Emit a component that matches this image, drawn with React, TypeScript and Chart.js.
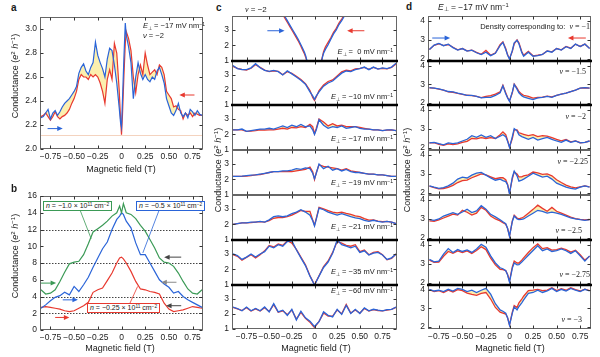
import React, { useEffect, useRef } from 'react';
import { Chart, registerables } from 'chart.js';
Chart.register(...registerables);

// ---------------- data ----------------
const A_X = [-0.85,-0.825,-0.8,-0.775,-0.75,-0.725,-0.7,-0.675,-0.65,-0.625,
  -0.6,-0.575,-0.55,-0.525,-0.5,-0.475,-0.45,-0.425,-0.4,-0.375,
  -0.35,-0.325,-0.3,-0.275,-0.25,-0.225,-0.2,-0.175,-0.15,-0.125,
  -0.1,-0.075,-0.05,-0.025,-0.01,0,0.01,0.025,0.04,0.05,
  0.075,0.1,0.125,0.15,0.175,0.2,0.225,0.25,0.275,0.3,
  0.325,0.35,0.375,0.4,0.425,0.45,0.475,0.5,0.525,0.55,
  0.575,0.6,0.625,0.65,0.675,0.7,0.725,0.75,0.775,0.8,
  0.825,0.85];
const A_BLUE = [2.26,2.27,2.30,2.33,2.25,2.30,2.32,2.28,2.31,2.35,
  2.38,2.40,2.42,2.45,2.48,2.52,2.63,2.68,2.71,2.65,
  2.62,2.68,2.72,2.89,2.78,2.72,2.67,2.60,2.75,2.84,
  2.82,2.70,2.55,2.35,2.22,2.18,2.40,2.75,3.05,2.95,
  2.85,2.72,2.42,2.60,2.72,2.63,2.58,2.62,2.58,2.56,
  2.60,2.58,2.65,2.68,2.62,2.55,2.42,2.36,2.30,2.28,
  2.32,2.38,2.30,2.27,2.30,2.26,2.33,2.31,2.28,2.32,
  2.29,2.28];
const A_RED = [2.27,2.28,2.30,2.27,2.24,2.27,2.31,2.27,2.25,2.27,
  2.28,2.30,2.33,2.38,2.42,2.48,2.58,2.62,2.60,2.60,
  2.58,2.62,2.60,2.62,2.60,2.55,2.48,2.38,2.58,2.66,
  2.58,2.88,2.80,2.50,2.25,2.12,2.28,2.60,2.88,2.98,
  2.92,2.82,2.60,2.47,2.62,2.70,2.62,2.80,2.70,2.62,
  2.64,2.66,2.62,2.70,2.68,2.62,2.48,2.45,2.42,2.35,
  2.36,2.33,2.32,2.25,2.30,2.28,2.30,2.27,2.30,2.29,
  2.28,2.28];

const B_X = [-0.85,-0.8,-0.75,-0.7,-0.65,-0.6,-0.55,-0.5,-0.45,-0.4,
  -0.35,-0.3,-0.25,-0.2,-0.15,-0.1,-0.05,-0.02,0,0.02,
  0.05,0.1,0.15,0.2,0.25,0.3,0.35,0.4,0.45,0.5,
  0.55,0.6,0.65,0.7,0.75,0.8,0.85];
const B_GREEN = [4.8,4.3,4.4,4.8,5.8,6.9,7.9,8.1,8.2,9.0,
  10.3,11.7,12.1,12.5,13.0,13.6,14.0,14.8,14.0,15.1,
  14.0,13.8,13.3,12.5,11.8,10.8,9.8,8.6,8.1,8.0,
  7.6,6.8,5.8,4.9,4.4,4.3,4.8];
const B_BLUE = [2.6,3.0,3.5,3.9,4.1,4.5,4.2,5.2,4.6,5.4,
  6.3,7.5,8.6,9.7,10.5,12.0,13.2,13.6,14.0,13.8,
  13.0,12.2,10.4,9.0,9.0,8.0,7.0,6.0,5.5,5.1,
  4.4,4.6,4.0,3.6,3.3,3.0,2.7];
const B_RED = [2.7,2.8,2.7,2.6,2.5,2.3,2.2,2.3,2.6,2.9,
  3.3,4.5,4.8,5.0,5.9,6.8,8.0,8.6,8.7,8.5,
  8.0,7.0,5.8,4.9,4.8,4.6,4.5,4.3,3.2,2.5,
  2.2,2.3,2.4,2.6,2.8,2.7,2.6];

const C0_X = [-0.45,-0.4,-0.36,-0.33,-0.3,-0.27,-0.24,-0.21,-0.18,-0.15,
  -0.13,-0.11,-0.095,-0.085,-0.08,0,0.075,0.08,0.09,0.1,
  0.12,0.15,0.18,0.21,0.24,0.27,0.3,0.33,0.36,0.4,
  0.45];
const C0_BLUE = [5.2,4.6,4.2,3.9,3.6,3.3,3.0,2.7,2.4,2.05,
  1.8,1.55,1.3,1.05,0.9,null,0.9,1.05,1.3,1.5,
  1.75,2.05,2.4,2.75,3.0,3.35,3.6,3.9,4.25,4.7,
  5.3];
const C0_RED = [5.1,4.5,4.1,3.8,3.5,3.2,2.9,2.6,2.3,1.95,
  1.7,1.45,1.2,1.0,0.85,null,0.9,1.1,1.35,1.6,
  1.9,2.2,2.5,2.85,3.1,3.45,3.7,4.0,4.3,4.75,
  5.35];

const C_X = [-0.9,-0.85,-0.8,-0.75,-0.7,-0.65,-0.6,-0.55,-0.5,-0.45,
  -0.4,-0.35,-0.3,-0.25,-0.2,-0.15,-0.1,-0.05,-0.02,0,
  0.02,0.05,0.1,0.15,0.2,0.25,0.3,0.35,0.4,0.45,
  0.5,0.55,0.6,0.65,0.7,0.75,0.8,0.85,0.9];
const C10_BLUE = [3.6,3.4,3.33,3.33,3.45,3.72,3.45,3.28,3.22,3.28,
  3.2,2.98,3.25,3.05,2.85,2.63,2.37,1.87,1.6,1.37,
  1.6,1.87,2.24,2.45,2.58,2.85,3.1,3.24,3.2,3.33,
  3.4,3.5,3.33,3.5,3.37,3.45,3.4,3.5,3.76];
const C10_RED = [3.55,3.42,3.35,3.3,3.42,3.65,3.48,3.3,3.2,3.25,
  3.22,3.0,3.2,3.08,2.9,2.68,2.4,1.95,1.5,1.3,
  1.55,1.95,2.32,2.55,2.65,2.92,3.18,3.3,3.25,3.38,
  3.42,3.48,3.35,3.48,3.38,3.42,3.38,3.48,3.7];
const C17_BLUE = [2.3,2.3,2.35,2.2,2.25,2.3,2.35,2.35,2.4,2.35,
  2.45,2.55,2.45,2.6,2.5,2.65,2.5,2.55,2.3,2.0,
  2.3,2.95,2.6,2.4,2.5,2.45,2.55,2.4,2.45,2.5,
  2.4,2.35,2.35,2.3,2.3,2.25,2.3,2.3,2.25];
const C17_RED = [2.3,2.3,2.3,2.2,2.22,2.25,2.3,2.28,2.3,2.3,
  2.35,2.4,2.35,2.45,2.42,2.5,2.45,2.65,2.5,2.05,
  2.4,3.0,2.8,2.55,2.7,2.55,2.6,2.5,2.5,2.5,
  2.45,2.4,2.35,2.3,2.3,2.25,2.28,2.3,2.25];
const C19_BLUE = [2.2,2.2,2.22,2.25,2.28,2.3,2.35,2.4,2.45,2.5,
  2.5,2.55,2.55,2.6,2.7,2.65,2.75,2.7,2.4,2.05,
  2.4,3.0,2.7,2.85,2.6,2.7,2.55,2.65,2.5,2.45,
  2.45,2.4,2.35,2.35,2.3,2.3,2.25,2.2,2.2];
const C19_RED = [2.2,2.2,2.2,2.22,2.25,2.3,2.32,2.38,2.45,2.5,
  2.5,2.5,2.5,2.5,2.55,2.6,2.65,2.8,2.5,2.0,
  2.45,2.95,2.85,2.8,2.75,2.7,2.6,2.7,2.55,2.5,
  2.45,2.4,2.35,2.35,2.3,2.3,2.25,2.2,2.2];
const C21_BLUE = [2.0,2.05,2.1,2.1,2.15,2.15,2.2,2.15,2.3,2.5,
  2.55,2.5,2.55,2.7,2.8,2.95,2.8,2.6,2.25,1.9,
  2.35,3.05,2.95,2.8,2.7,2.6,2.7,2.6,2.5,2.42,
  2.38,2.27,2.2,2.27,2.2,2.15,2.2,2.15,2.05];
const C21_RED = [2.0,2.05,2.1,2.1,2.12,2.15,2.18,2.15,2.25,2.4,
  2.45,2.45,2.5,2.6,2.75,2.9,2.85,2.85,2.3,1.95,
  2.4,3.1,3.0,2.9,2.8,2.75,2.8,2.72,2.65,2.55,
  2.5,2.38,2.28,2.3,2.22,2.18,2.2,2.15,2.05];
const C35_BLUE = [3.0,2.9,2.65,2.8,3.0,2.8,3.0,3.15,3.5,3.4,
  3.6,3.5,3.8,3.85,3.27,2.75,2.25,1.57,1.23,1.0,
  1.23,1.57,2.13,2.48,3.05,3.9,3.6,3.5,3.4,3.5,
  3.1,3.2,2.93,3.05,3.1,2.93,2.65,2.75,3.0];
const C35_RED = [2.95,2.85,2.6,2.78,2.95,2.75,2.95,3.2,3.55,3.45,
  3.65,3.55,3.85,3.7,3.3,2.8,2.3,1.6,1.25,1.0,
  1.25,1.6,2.18,2.55,3.1,3.8,3.7,3.55,3.5,3.6,
  3.15,3.25,2.95,3.1,3.15,2.95,2.62,2.72,3.0];
const C60_BLUE = [2.45,2.35,2.2,2.45,2.2,2.35,2.2,2.45,2.13,2.67,
  2.13,2.24,1.9,2.3,1.6,2.17,1.74,1.52,1.3,1.15,
  1.3,1.48,2.13,1.9,1.8,2.3,1.96,2.56,2.02,2.3,
  2.02,2.39,2.2,2.3,2.24,2.2,2.28,2.3,2.45];
const C60_RED = [2.42,2.33,2.22,2.4,2.18,2.33,2.18,2.4,2.15,2.6,
  2.1,2.2,1.95,2.25,1.65,2.1,1.7,1.45,1.22,1.1,
  1.25,1.5,2.05,1.85,1.85,2.25,2.0,2.62,2.05,2.25,
  2.05,2.35,2.18,2.28,2.22,2.2,2.25,2.3,2.42];
const C_FIELDS = [0, -10, -17, -19, -21, -35, -60];

const D_X = [-0.85,-0.8,-0.75,-0.7,-0.65,-0.6,-0.55,-0.5,-0.45,-0.4,
  -0.35,-0.3,-0.25,-0.2,-0.15,-0.1,-0.07,-0.04,-0.02,0,
  0.03,0.05,0.08,0.1,0.13,0.15,0.2,0.25,0.3,0.35,
  0.4,0.45,0.5,0.55,0.6,0.65,0.7,0.75,0.8,0.85];
const D1_BLUE = [2.5,2.73,2.82,2.7,2.78,2.6,2.47,2.55,2.42,2.47,
  2.33,2.24,2.36,2.18,2.3,2.7,2.87,2.5,2.2,2.0,
  2.45,2.85,2.98,2.8,2.35,2.15,2.36,2.15,2.18,2.24,
  2.42,2.36,2.55,2.47,2.65,2.55,2.78,2.65,2.78,2.55];
const D1_RED = [2.5,2.72,2.8,2.7,2.76,2.62,2.48,2.55,2.43,2.46,
  2.35,2.25,2.45,2.2,2.32,2.75,2.9,2.55,2.22,2.02,
  2.4,2.8,3.0,2.85,2.4,2.2,2.4,2.17,2.2,2.25,
  2.43,2.38,2.55,2.48,2.66,2.57,2.78,2.66,2.78,2.56];
const D15_BLUE = [2.83,2.8,2.76,2.7,2.62,2.6,2.53,2.48,2.41,2.41,
  2.36,2.28,2.31,2.31,2.41,2.55,2.92,2.5,2.28,2.1,
  2.6,3.0,2.75,2.55,2.4,2.33,2.26,2.19,2.28,2.31,
  2.36,2.31,2.41,2.48,2.53,2.62,2.7,2.8,2.83,2.8];
const D15_RED = [2.82,2.8,2.75,2.7,2.6,2.58,2.52,2.47,2.42,2.4,
  2.36,2.3,2.36,2.4,2.48,2.6,2.95,2.55,2.3,2.12,
  2.55,3.02,2.8,2.62,2.48,2.42,2.36,2.27,2.3,2.32,
  2.37,2.33,2.42,2.48,2.54,2.62,2.7,2.8,2.82,2.8];
const D2_BLUE = [2.27,2.3,2.23,2.17,2.27,2.23,2.27,2.37,2.46,2.65,
  2.56,2.69,2.56,2.65,2.5,2.62,2.7,2.6,2.35,2.04,
  2.6,3.02,2.9,2.69,2.6,2.56,2.46,2.56,2.42,2.5,
  2.56,2.46,2.37,2.3,2.42,2.3,2.37,2.27,2.3,2.37];
const D2_RED = [2.27,2.28,2.2,2.15,2.22,2.18,2.22,2.3,2.35,2.5,
  2.48,2.55,2.5,2.55,2.5,2.7,2.85,2.7,2.4,2.05,
  2.5,2.95,2.95,2.8,2.75,2.72,2.65,2.7,2.6,2.65,
  2.62,2.55,2.45,2.38,2.45,2.33,2.38,2.28,2.3,2.37];
const D225_BLUE = [2.38,2.31,2.25,2.29,2.38,2.52,2.73,2.83,2.79,2.94,
  3.04,3.08,2.94,2.79,2.67,2.73,2.65,2.6,2.42,1.96,
  2.83,3.15,2.9,2.62,2.68,2.73,2.88,3.04,2.94,2.83,
  2.88,2.73,2.52,2.42,2.31,2.25,2.21,2.31,2.38,2.31];
const D225_RED = [2.36,2.28,2.22,2.24,2.3,2.4,2.55,2.65,2.68,2.8,
  2.9,3.0,2.95,2.85,2.75,2.8,2.8,2.7,2.45,2.0,
  2.75,3.1,3.0,2.85,2.85,2.9,2.95,3.1,3.05,2.98,
  3.0,2.9,2.7,2.55,2.42,2.33,2.27,2.33,2.38,2.32];
const D25_BLUE = [2.96,2.93,3.0,3.15,3.24,3.33,3.24,3.36,3.51,3.33,
  3.42,3.69,3.51,3.24,3.11,2.96,2.85,2.75,2.5,2.09,
  2.87,3.15,3.0,2.96,2.98,3.0,3.15,3.3,3.45,3.4,
  3.3,3.35,3.3,3.24,3.15,3.05,3.0,2.96,2.93,2.96];
const D25_RED = [2.9,2.88,2.95,3.05,3.15,3.25,3.2,3.45,3.35,3.2,
  3.3,3.6,3.45,3.15,3.0,2.9,2.8,2.72,2.5,2.1,
  2.9,3.2,3.05,3.0,3.05,3.1,3.3,3.5,3.72,3.55,
  3.4,3.6,3.4,3.3,3.2,3.1,3.02,2.98,2.95,2.97];
const D275_BLUE = [3.24,3.11,3.15,3.51,3.8,3.6,3.75,3.65,3.73,3.6,
  3.78,4.02,3.87,3.42,3.05,2.8,2.75,2.65,2.42,2.05,
  2.78,3.05,2.95,2.96,3.1,3.2,3.45,3.7,3.95,3.69,
  3.78,3.65,3.69,3.78,3.69,3.55,3.69,3.42,3.15,3.42];
const D275_RED = [3.2,3.08,3.1,3.4,3.65,3.55,3.68,3.6,3.68,3.55,
  3.7,3.9,3.75,3.3,2.95,2.72,2.7,2.65,2.45,2.1,
  2.85,3.15,3.05,3.05,3.2,3.32,3.6,3.85,4.05,3.8,
  3.85,3.72,3.75,3.82,3.75,3.62,3.72,3.48,3.2,3.4];
const D3_BLUE = [4.02,3.93,3.97,3.9,4.02,3.93,4.07,4.02,3.9,3.97,
  3.85,3.97,4.07,3.76,3.25,2.92,2.85,2.75,2.49,2.1,
  2.75,3.08,2.92,3.1,3.3,3.45,3.8,3.85,3.97,3.85,
  3.93,4.07,3.9,4.02,3.93,4.07,3.97,3.9,4.02,3.93];
const D3_RED = [4.0,3.9,3.95,3.85,3.98,3.88,4.0,3.95,3.82,3.75,
  3.7,3.8,3.85,3.5,3.05,2.8,2.75,2.7,2.5,2.12,
  2.8,3.15,3.05,3.3,3.5,3.65,3.95,3.98,4.02,3.95,
  3.98,4.1,3.95,4.05,3.97,4.1,4.0,3.93,4.03,3.95];
const D_NU = [-1, -1.5, -2, -2.25, -2.5, -2.75, -3];

const X_TICKS = [-0.75, -0.5, -0.25, 0, 0.25, 0.5, 0.75];
const A_Y_TICKS = [2.0, 2.2, 2.4, 2.6, 2.8, 3.0];
const B_Y_TICKS = [0, 2, 4, 6, 8, 10, 12, 14, 16];
const B_DOTTED = [2, 4, 8, 12];
const C_Y_TICKS = [1, 2, 3];
const D_Y_TICKS = [2, 3, 4];

// ---------------- styling ----------------
const SANS = '"Liberation Sans", Arial, Helvetica, sans-serif';
const SERIF = '"Liberation Serif", "Times New Roman", serif';
const RED = '#e8392f';
const BLUE = '#2a64d8';
const GREEN = '#3b9a56';
const FILL = '#fcefae';
const MINUS = '\u2212';

const fmtX = (v: number) => (v === 0 ? '0' : (v < 0 ? MINUS : '') + Math.abs(v).toFixed(2));
const fmtNum = (v: number) => (v < 0 ? MINUS : '') + Math.abs(v);

const decorPlugin = {
  id: 'decor',
  beforeDatasetsDraw(chart: any, _a: any, o: any) {
    const { ctx, chartArea: ca, scales } = chart;
    ctx.save();
    for (const h of o.hlines || []) {
      const py = Math.round(scales.y.getPixelForValue(h.y)) + 0.5;
      ctx.strokeStyle = h.color;
      ctx.lineWidth = 1;
      ctx.setLineDash(h.dash || []);
      ctx.beginPath();
      ctx.moveTo(ca.left, py);
      ctx.lineTo(ca.right, py);
      ctx.stroke();
    }
    ctx.restore();
  },
  afterDatasetsDraw(chart: any, _a: any, o: any) {
    const { ctx, chartArea: ca, scales } = chart;
    const xs = scales.x, ys = scales.y;
    const L = Math.round(ca.left) + 0.5, R = Math.round(ca.right) - 0.5;
    const T = Math.round(ca.top) + 0.5, B = Math.round(ca.bottom) - 0.5;
    ctx.save();
    ctx.setLineDash([]);
    for (const l of o.leaders || []) {
      ctx.strokeStyle = l.color;
      ctx.lineWidth = 0.8;
      ctx.beginPath();
      ctx.moveTo(xs.getPixelForValue(l.x1), ys.getPixelForValue(l.y1));
      ctx.lineTo(xs.getPixelForValue(l.x2), ys.getPixelForValue(l.y2));
      ctx.stroke();
    }
    for (const a of o.arrows || []) {
      const x1 = xs.getPixelForValue(a.from), x2 = xs.getPixelForValue(a.to);
      const py = ys.getPixelForValue(a.y);
      const d = Math.sign(x2 - x1);
      ctx.strokeStyle = a.color;
      ctx.fillStyle = a.color;
      ctx.lineWidth = 1;
      ctx.beginPath();
      ctx.moveTo(x1, py);
      ctx.lineTo(x2 - d * 4, py);
      ctx.stroke();
      ctx.beginPath();
      ctx.moveTo(x2, py);
      ctx.lineTo(x2 - d * 5.5, py - 2.5);
      ctx.lineTo(x2 - d * 5.5, py + 2.5);
      ctx.closePath();
      ctx.fill();
    }
    ctx.strokeStyle = o.frame || '#666';
    ctx.lineWidth = 1;
    ctx.strokeRect(L, T, R - L, B - T);
    ctx.strokeStyle = '#333';
    ctx.beginPath();
    for (const v of o.xTicks || []) {
      const px = Math.round(xs.getPixelForValue(v)) + 0.5;
      ctx.moveTo(px, B); ctx.lineTo(px, B - 3);
      ctx.moveTo(px, T); ctx.lineTo(px, T + 3);
    }
    for (const v of o.yTicks || []) {
      const py = Math.round(ys.getPixelForValue(v)) + 0.5;
      ctx.moveTo(L, py); ctx.lineTo(L + 3, py);
      ctx.moveTo(R, py); ctx.lineTo(R - 3, py);
    }
    ctx.stroke();
    ctx.strokeStyle = '#000';
    ctx.lineWidth = 1.6;
    if (o.thickTop) { ctx.beginPath(); ctx.moveTo(ca.left - 1, ca.top + 0.5); ctx.lineTo(ca.right + 1, ca.top + 0.5); ctx.stroke(); }
    if (o.thickBottom) { ctx.beginPath(); ctx.moveTo(ca.left - 1, ca.bottom - 0.5); ctx.lineTo(ca.right + 1, ca.bottom - 0.5); ctx.stroke(); }
    ctx.fillStyle = '#222';
    ctx.font = `8.5px ${SANS}`;
    if (o.xLabels) {
      ctx.textAlign = 'center';
      ctx.textBaseline = 'top';
      for (const v of o.xTicks) ctx.fillText(fmtX(v), xs.getPixelForValue(v), ca.bottom + 3);
    }
    if (o.yLabels) {
      ctx.textAlign = 'right';
      ctx.textBaseline = 'middle';
      for (const v of o.yTicks) ctx.fillText(o.yDec ? v.toFixed(o.yDec) : String(v), ca.left - 3, ys.getPixelForValue(v));
    }
    ctx.restore();
  },
};

const pts = (xs: number[], ys: (number | null)[]) => xs.map((x, i) => ({ x, y: ys[i] }));
const line = (xs: number[], ys: (number | null)[], color: string, width: number, extra: any = {}) => ({
  data: pts(xs, ys), borderColor: color, borderWidth: width, pointRadius: 0, tension: 0, fill: false, spanGaps: false, ...extra,
});

function Plot({ rect, m, xr, yr, datasets, decor }: any) {
  const ref = useRef<HTMLCanvasElement | null>(null);
  const W = rect.w + m.l + m.r, H = rect.h + m.t + m.b;
  useEffect(() => {
    const chart = new Chart(ref.current as HTMLCanvasElement, {
      type: 'line',
      data: { datasets },
      options: {
        animation: false,
        responsive: false,
        devicePixelRatio: 1,
        events: [],
        layout: { padding: { left: m.l, right: m.r, top: m.t, bottom: m.b } },
        scales: {
          x: { type: 'linear', display: false, min: xr[0], max: xr[1] },
          y: { type: 'linear', display: false, min: yr[0], max: yr[1] },
        },
        plugins: {
          legend: { display: false },
          tooltip: { enabled: false },
          filler: { drawTime: 'beforeDatasetsDraw' },
          decor,
        } as any,
      },
      plugins: [decorPlugin],
    } as any);
    return () => chart.destroy();
  }, []);
  return (
    <canvas ref={ref} width={W} height={H}
      style={{ position: 'absolute', left: rect.l - m.l, top: rect.t - m.t, width: W, height: H }} />
  );
}

function T({ x, y, children, size = 8, align = 'left', font = SANS, bold = false, rotate = false, style = {} }: any) {
  const tx = align === 'left' ? '0' : align === 'right' ? '-100%' : '-50%';
  return (
    <div style={{
      position: 'absolute', left: x, top: y, fontSize: size, fontFamily: font, fontWeight: bold ? 700 : 400,
      lineHeight: 1, whiteSpace: 'nowrap', color: '#1a1a1a',
      transform: rotate ? 'translate(-50%,-50%) rotate(-90deg)' : `translate(${tx},-50%)`, ...style,
    }}>{children}</div>
  );
}

const supS: any = { fontSize: '0.68em', verticalAlign: '0.45em', lineHeight: 0 };
const subS: any = { fontSize: '0.7em', verticalAlign: '-0.25em', lineHeight: 0 };
const Eperp = () => (<><i>E</i><span style={subS}>⊥</span></>);
const ExpM1 = () => <span style={supS}>{MINUS}1</span>;
const CondLabel = () => (<>Conductance (<i>e</i><span style={supS}>2</span> <i>h</i><span style={supS}>{MINUS}1</span>)</>);

const ROWS = [16, 61, 105, 150, 195, 240, 285, 329];
const THICK_TOP = [false, true, true, false, false, true, true];
const THICK_BOTTOM = [true, true, false, false, true, true, false];

const C_SETS = [
  [C0_X, C0_RED, C0_BLUE, false], [C_X, C10_RED, C10_BLUE, false], [C_X, C17_RED, C17_BLUE, true],
  [C_X, C19_RED, C19_BLUE, true], [C_X, C21_RED, C21_BLUE, true], [C_X, C35_RED, C35_BLUE, false],
  [C_X, C60_RED, C60_BLUE, false],
];
const D_SETS = [
  [D1_RED, D1_BLUE], [D15_RED, D15_BLUE], [D2_RED, D2_BLUE], [D225_RED, D225_BLUE],
  [D25_RED, D25_BLUE], [D275_RED, D275_BLUE], [D3_RED, D3_BLUE],
];
const C_LABEL_Y = [51.7, 97, 139, 183, 226.7, 272, 291];
const D_LABEL_Y = [26.7, 71.7, 116.7, 161.7, 231, 275, 320];
const D_LABEL_R = [590, 586, 586, 588, 582, 590, 582];

// red underneath (order 1), blue on top (order 0); fill from blue back to red
const pair = (xs: any, r: any, b: any, w: number, withFill: boolean) => [
  line(xs, r, RED, w, { order: 1 }),
  line(xs, b, BLUE, w, withFill ? { order: 0, fill: '-1', backgroundColor: FILL } : { order: 0 }),
];

export default function App() {
  const boxBase: any = { position: 'absolute', background: '#fff', fontSize: 7, fontFamily: SANS, lineHeight: '8px', padding: '0 2px', whiteSpace: 'nowrap', color: '#1a1a1a' };
  return (
    <div style={{ position: 'absolute', left: 0, top: 0, width: 600, height: 357, background: '#fff', overflow: 'hidden', fontFamily: SANS }}>
      {/* panel a */}
      <Plot rect={{ l: 40, t: 17, w: 163, h: 132 }} m={{ l: 32, t: 4, r: 4, b: 14 }} xr={[-0.86, 0.86]} yr={[2.0, 3.1]}
        datasets={pair(A_X, A_RED, A_BLUE, 1.2, true)}
        decor={{ xTicks: X_TICKS, yTicks: A_Y_TICKS, xLabels: true, yLabels: true, yDec: 1,
          hlines: [{ y: 2.12, color: '#f4d3bf' }],
          arrows: [{ from: -0.78, to: -0.62, y: 2.17, color: BLUE }, { from: 0.77, to: 0.61, y: 2.45, color: RED }] }} />
      {/* panel b */}
      <Plot rect={{ l: 40, t: 196, w: 163, h: 134 }} m={{ l: 32, t: 4, r: 4, b: 14 }} xr={[-0.86, 0.86]} yr={[0, 16]}
        datasets={[line(B_X, B_GREEN, GREEN, 1.2), line(B_X, B_BLUE, BLUE, 1.2), line(B_X, B_RED, RED, 1.2)]}
        decor={{ xTicks: X_TICKS, yTicks: B_Y_TICKS, xLabels: true, yLabels: true,
          hlines: B_DOTTED.map((y) => ({ y, color: '#444', dash: [1.5, 1.5] })),
          leaders: [
            { x1: -0.44, y1: 14.4, x2: -0.32, y2: 10.9, color: GREEN },
            { x1: 0.4, y1: 14.4, x2: 0.225, y2: 9.2, color: BLUE },
            { x1: 0.085, y1: 3.1, x2: 0.17, y2: 5.2, color: RED },
          ],
          arrows: [
            { from: -0.86, to: -0.69, y: 5.6, color: GREEN },
            { from: -0.62, to: -0.46, y: 3.6, color: BLUE },
            { from: -0.7, to: -0.55, y: 1.5, color: RED },
            { from: 0.63, to: 0.45, y: 8.7, color: '#444' },
            { from: 0.58, to: 0.42, y: 5.7, color: '#8a8a8a' },
            { from: 0.63, to: 0.47, y: 2.9, color: '#444' },
          ] }} />
      {/* panel c */}
      {C_SETS.map(([xs, r, b, f]: any, i) => (
        <Plot key={'c' + i} rect={{ l: 232, t: ROWS[i], w: 165, h: ROWS[i + 1] - ROWS[i] }}
          m={{ l: 14, t: 3, r: 3, b: i === 6 ? 14 : 3 }} xr={[-0.91, 0.91]} yr={[1, 3.9]}
          datasets={pair(xs, r, b, 1.3, f)}
          decor={{ xTicks: X_TICKS, yTicks: C_Y_TICKS, xLabels: i === 6, yLabels: true,
            thickTop: THICK_TOP[i], thickBottom: THICK_BOTTOM[i],
            arrows: i === 0 ? [{ from: -0.52, to: -0.33, y: 2.95, color: BLUE }, { from: 0.55, to: 0.36, y: 2.95, color: RED }] : [] }} />
      ))}
      {/* panel d */}
      {D_SETS.map(([r, b]: any, i) => (
        <Plot key={'d' + i} rect={{ l: 428, t: ROWS[i], w: 163, h: ROWS[i + 1] - ROWS[i] }}
          m={{ l: 14, t: 3, r: 3, b: i === 6 ? 14 : 3 }} xr={[-0.865, 0.865]} yr={[1.9, 4.25]}
          datasets={pair(D_X, r, b, 1.3, i > 0)}
          decor={{ xTicks: X_TICKS, yTicks: D_Y_TICKS, xLabels: i === 6, yLabels: true,
            thickTop: THICK_TOP[i], thickBottom: THICK_BOTTOM[i],
            arrows: i === 0 ? [{ from: -0.82, to: -0.63, y: 3.1, color: BLUE }, { from: 0.81, to: 0.62, y: 3.1, color: RED }] : [] }} />
      ))}

      {/* panel letters */}
      <T x={11} y={7.6} size={10} bold>a</T>
      <T x={11} y={189} size={10} bold>b</T>
      <T x={216} y={7.8} size={10} bold>c</T>
      <T x={406} y={6.7} size={10} bold>d</T>

      {/* axis titles */}
      <T x={15} y={76} size={9} rotate><CondLabel /></T>
      <T x={15} y={256} size={9} rotate><CondLabel /></T>
      <T x={218} y={170} size={9} rotate><CondLabel /></T>
      <T x={407} y={170} size={9} rotate><CondLabel /></T>
      <T x={121} y={169} size={9} align="center">Magnetic field (T)</T>
      <T x={120} y={348} size={9} align="center">Magnetic field (T)</T>
      <T x={316} y={348} size={9} align="center">Magnetic field (T)</T>
      <T x={510} y={348} size={9} align="center">Magnetic field (T)</T>

      {/* panel a annotations */}
      <T x={143} y={25.5} size={7.5}><Eperp /> = {MINUS}17 mV nm<ExpM1 /></T>
      <T x={143} y={35.5} size={7.5}><i>ν</i> = {MINUS}2</T>

      {/* panel b boxes */}
      <div style={{ ...boxBase, left: 43, top: 201, border: `1px solid ${GREEN}` }}><i>n</i> = {MINUS}1.0 × 10<span style={supS}>11</span> cm<span style={supS}>{MINUS}2</span></div>
      <div style={{ ...boxBase, left: 136, top: 201, border: `1px solid ${BLUE}` }}><i>n</i> = {MINUS}0.5 × 10<span style={supS}>11</span> cm<span style={supS}>{MINUS}2</span></div>
      <div style={{ ...boxBase, left: 87, top: 303, border: `1px solid ${RED}` }}><i>n</i> = {MINUS}0.25 × 10<span style={supS}>11</span> cm<span style={supS}>{MINUS}2</span></div>

      {/* panel c labels */}
      <T x={245} y={9.5} size={8}><i style={{ fontFamily: SERIF }}>ν</i> = {MINUS}2</T>
      {C_FIELDS.map((e, i) => (
        <T key={'cl' + i} x={393} y={C_LABEL_Y[i]} size={7.5} align="right"><Eperp /> = {e === 0 ? '\u00a00' : fmtNum(e)} mV nm<ExpM1 /></T>
      ))}

      {/* panel d labels */}
      <T x={438} y={6.5} size={8.5}><Eperp /> = {MINUS}17 mV nm<ExpM1 /></T>
      {D_NU.map((v, i) => (
        <T key={'dl' + i} x={D_LABEL_R[i]} y={D_LABEL_Y[i]} size={8} align="right">
          {i === 0 ? <span style={{ fontSize: 7.5 }}>Density corresponding to:&nbsp;&nbsp;</span> : null}
          <span style={{ fontFamily: SERIF }}><i>ν</i> = {fmtNum(v)}</span>
        </T>
      ))}
    </div>
  );
}
